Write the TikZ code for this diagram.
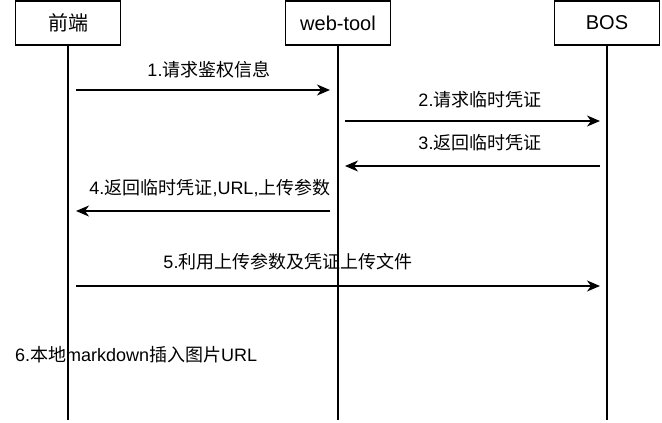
\documentclass[tikz,border=0pt]{standalone}
\usepackage{fontspec}
\setmainfont{Liberation Sans}
\newfontfamily\cjk{Noto Sans CJK SC}
\usetikzlibrary{arrows.meta}
\begin{document}
\begin{tikzpicture}[x=1pt,y=-1pt,
  actor/.style={draw=black,line width=1.2pt,minimum width=105pt,minimum height=44pt,inner sep=0pt,font=\fontsize{20}{24}\selectfont},
  life/.style={draw=black,line width=1.2pt},
  msg/.style={draw=black,line width=1.2pt,-{Stealth[length=13pt,width=11pt,inset=4pt]}},
  lbl/.style={inner sep=0pt,font=\fontsize{18}{22}\selectfont}]
\useasboundingbox (0,0) rectangle (662,423);
% actors
\node[actor] (fe)  at (68,23)  {\cjk 前端};
\node[actor] (wt)  at (338,23) {web-tool};
\node[actor] (bos) at (607,23) {BOS};
% lifeline ends
\coordinate (feE)  at (68,420);
\coordinate (wtE)  at (338,420);
\coordinate (bosE) at (607,420);
\draw[life] (fe.south) -- (feE);
\draw[life] (wt.south) -- (wtE);
\draw[life] (bos.south) -- (bosE);
% message endpoints
\coordinate (m1s) at (76,90);   \coordinate (m1e) at (330,90);
\coordinate (m2s) at (345,121); \coordinate (m2e) at (600,121);
\coordinate (m3s) at (600,166); \coordinate (m3e) at (345,166);
\coordinate (m4s) at (330,211); \coordinate (m4e) at (76,211);
\coordinate (m5s) at (76,286);  \coordinate (m5e) at (600,286);
\draw[msg] (m1s) -- (m1e);
\draw[msg] (m2s) -- (m2e);
\draw[msg] (m3s) -- (m3e);
\draw[msg] (m4s) -- (m4e);
\draw[msg] (m5s) -- (m5e);
% labels
\node[lbl] (l1) at (209,70)  {1.{\cjk 请求鉴权信息}};
\node[lbl] (l2) at (480,100) {2.{\cjk 请求临时凭证}};
\node[lbl] (l3) at (480,143) {3.{\cjk 返回临时凭证}};
\node[lbl] (l4) at (210,188) {4.{\cjk 返回临时凭证},URL,{\cjk 上传参数}};
\node[lbl] (l5) at (288,262) {5.{\cjk 利用上传参数及凭证上传文件}};
\node[lbl,anchor=west] (l6) at (15,355) {6.{\cjk 本地}markdown{\cjk 插入图片}URL};
\end{tikzpicture}
\end{document}
